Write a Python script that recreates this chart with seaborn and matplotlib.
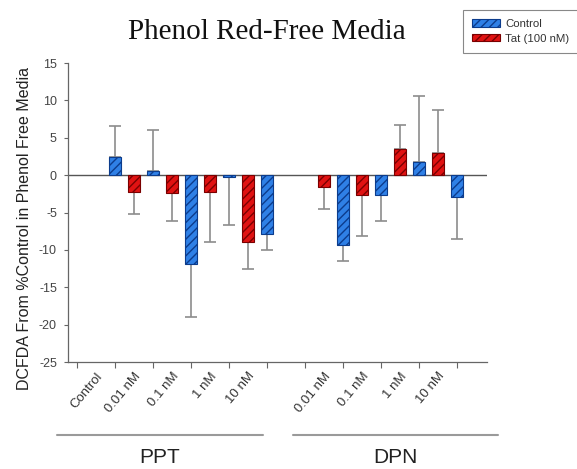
import numpy as np
import pandas as pd
import matplotlib
matplotlib.use("Agg")
import matplotlib.pyplot as plt
import matplotlib.transforms as mtransforms
from matplotlib.patches import Patch
import seaborn as sns

# ---------------- data ----------------
ppt_doses = ["Control", "0.01 nM", "0.1 nM", "1 nM", "10 nM"]
dpn_doses = ["0.01 nM", "0.1 nM", "1 nM", "10 nM"]
group_names = ["PPT", "DPN"]
series_names = ["Control", "Tat (100 nM)"]

control_vals = [2.4, 0.6, -11.9, -0.3, -7.9, -9.4, -2.7, 1.7, -2.9]
control_err = [4.2, 5.4, 7.1, 6.4, 2.1, 2.1, 3.4, 8.9, 5.6]
tat_vals = [np.nan, -2.2, -2.4, -2.2, -8.9, -1.6, -2.7, 3.5, 3.0]
tat_err = [np.nan, 3.0, 3.7, 6.7, 3.7, 2.9, 5.4, 3.2, 5.7]

yticks = [-25, -20, -15, -10, -5, 0, 5, 10, 15]

# ---------------- style ----------------
sns.set_theme(style="white")
plt.rcParams["font.family"] = ["Liberation Sans", "DejaVu Sans"]
plt.rcParams["axes.unicode_minus"] = False

face = {"Control": "#2f80e6", "Tat (100 nM)": "#e01212"}
edge = {"Control": "#0c3c8c", "Tat (100 nM)": "#7a0000"}

# category slots: PPT doses, an empty gap, DPN doses
labels = ppt_doses + [""] + dpn_doses
slots = [i for i, l in enumerate(labels) if l != ""]

rows = []
for k, s in enumerate(slots):
    rows.append({"pos": s + 0.5, "value": control_vals[k], "err": control_err[k], "series": "Control"})
    if not np.isnan(tat_vals[k]):
        rows.append({"pos": float(s), "value": tat_vals[k], "err": tat_err[k], "series": "Tat (100 nM)"})
df = pd.DataFrame(rows)

fig = plt.figure(figsize=(5.77, 4.69), dpi=100)
ax = fig.add_axes([68 / 577, 1 - 362 / 469, (487 - 68) / 577, 299 / 469])

ax.axhline(0, color="#555555", lw=1.0, zorder=1)

sns.barplot(data=df, x="pos", y="value", hue="series", hue_order=series_names,
            palette=face, native_scale=True, dodge=False, width=0.632,
            errorbar=None, legend=False, saturation=1, ax=ax, zorder=2)

for container, s in zip(ax.containers, series_names):
    for bar in container:
        bar.set_hatch("////")
        bar.set_edgecolor(edge[s])
        bar.set_linewidth(0.8)

for s in series_names:
    d = df[df["series"] == s]
    lower = np.where(d["value"] < 0, d["err"], 0)
    upper = np.where(d["value"] >= 0, d["err"], 0)
    ax.errorbar(d["pos"], d["value"], yerr=[lower, upper], fmt="none",
                ecolor="#8c8c8c", elinewidth=1.2, capsize=4, capthick=1.2, zorder=1.5)

ax.set_xlim(-0.737, 10.29)
ax.set_ylim(-25, 15)
ax.set_yticks(yticks)
ax.set_xticks(np.arange(len(labels) + 1) - 0.5)
ax.set_xticklabels([])
ax.set_xticks(slots, minor=True)
ax.set_xticklabels([labels[s] for s in slots], minor=True, rotation=50,
                   ha="right", rotation_mode="anchor", fontsize=9.5, color="#333333")
ax.set_xlabel("")
ax.set_ylabel("")

for sp in ["top", "right"]:
    ax.spines[sp].set_visible(False)
for sp in ["left", "bottom"]:
    ax.spines[sp].set_color("#666666")
    ax.spines[sp].set_linewidth(0.9)

ax.tick_params(axis="y", direction="out", length=3, width=0.8, color="#666666",
               labelsize=9, labelcolor="#444444", pad=5, left=True)
ax.tick_params(axis="x", which="major", direction="out", length=4, width=0.8,
               color="#666666", bottom=True)
ax.tick_params(axis="x", which="minor", length=0, pad=6)

# group brackets
trans = mtransforms.blended_transform_factory(ax.transData, ax.transAxes)
for name, (x0, x1) in zip(group_names, [(-1.03, 4.39), (5.18, 10.58)]):
    ax.plot([x0, x1], [-0.244, -0.244], transform=trans, clip_on=False,
            color="#9a9a9a", lw=1.5)
    ax.text((x0 + x1) / 2, -0.318, name, transform=trans, ha="center", va="center",
            fontsize=15, color="#222222")

fig.text(25 / 577, 1 - 229 / 469, "DCFDA From %Control in Phenol Free Media",
         rotation=90, ha="center", va="center", fontsize=11.5, color="#222222")

fig.text(267 / 577, 1 - 39 / 469, "Phenol Red-Free Media", ha="center", va="baseline",
         fontsize=21, family=["Liberation Serif", "DejaVu Serif"], color="#111111")

handles = [Patch(facecolor=face[s], edgecolor=edge[s], hatch="////", lw=0.8, label=s)
           for s in series_names]
leg = fig.legend(handles=handles, loc="upper left", bbox_to_anchor=(463 / 577, 1 - 10 / 469),
                 bbox_transform=fig.transFigure, borderaxespad=0, fontsize=8.2,
                 handlelength=2.45, handleheight=0.6, handletextpad=0.45,
                 labelspacing=0.4, borderpad=0.8, fancybox=False, framealpha=1)
leg.get_frame().set_edgecolor("#888888")
leg.get_frame().set_linewidth(0.8)
for t in leg.get_texts():
    t.set_color("#333333")

fig.savefig("out.png", dpi=100)
